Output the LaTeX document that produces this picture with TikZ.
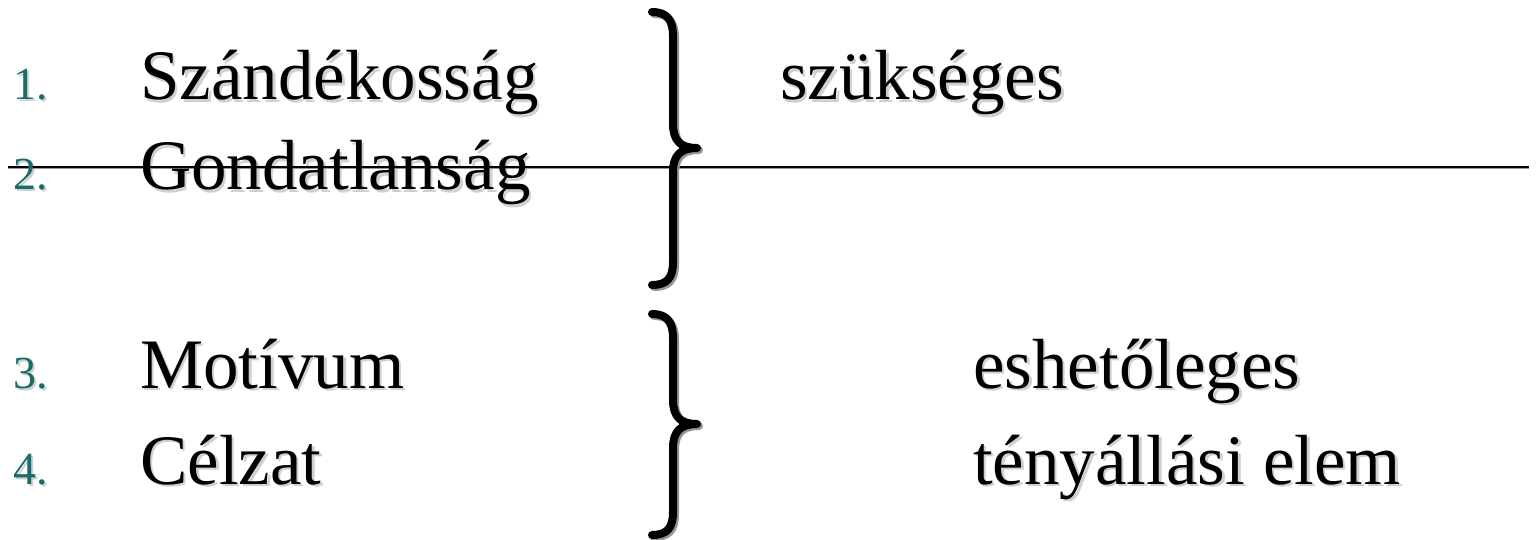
\documentclass[tikz,border=0pt]{standalone}
\usepackage{fontspec}
\setmainfont{Liberation Serif}
\definecolor{numteal}{RGB}{24,108,108}
\definecolor{shadowgray}{RGB}{150,150,150}
\tikzset{
  main/.style={anchor=base west, inner sep=0pt, font=\fontsize{71}{80}\selectfont},
  num/.style={anchor=base west, inner sep=0pt, text=numteal, font=\fontsize{46}{50}\selectfont},
  softshadow/.style={text=shadowgray, opacity=0.45},
  bracestroke/.style={line width=8pt, line cap=round, line join=round},
}
\begin{document}
\begin{tikzpicture}[x=1pt,y=-1pt]
\useasboundingbox (0,0) rectangle (1537,540);
% shadows
\foreach \n/\x/\y/\t in {s1/140/100/Szándékosság, s2/140/190/Gondatlanság, s3/140/388/Motívum, s4/140/484/Célzat, s5/780/100/szükséges, s6/973/388/eshetőleges, s7/973/484/tényállási elem}{
  \node[main, softshadow] (\n) at (\x+2.5,\y+2.5) {\t};
}
\foreach \n/\y/\t in {m1/100/1., m2/190/2., m3/388/3., m4/484/4.}{
  \node[num, softshadow] (\n) at (15,\y+2) {\t};
}
% horizontal rule
\coordinate (hl) at (8,167);
\coordinate (hr) at (1529,167);
\draw[shadowgray, line width=1.5pt] ([yshift=-1.5pt]hl) -- ([yshift=-1.5pt]hr);
\draw[line width=2pt] (hl) -- (hr);
% numbers
\node[num] (n1) at (13,100) {1.};
\node[num] (n2) at (13,190) {2.};
\node[num] (n3) at (13,388) {3.};
\node[num] (n4) at (13,484) {4.};
% main texts
\node[main] (t1) at (140,100) {Szándékosság};
\node[main] (t2) at (140,190) {Gondatlanság};
\node[main] (t3) at (140,388) {Motívum};
\node[main] (t4) at (140,484) {Célzat};
\node[main] (r1) at (780,100) {szükséges};
\node[main] (r2) at (973,388) {eshetőleges};
\node[main] (r3) at (973,484) {tényállási elem};
% braces
\foreach \dx/\col in {2/shadowgray, 0/black}{
\begin{scope}[xshift=\dx pt, yshift=-\dx pt]
\draw[bracestroke, draw=\col] (652,12) .. controls (667,12) and (673,20) .. (673,36) -- (673,124)
  .. controls (673,140) and (680,148) .. (697,148)
  .. controls (680,148) and (673,156) .. (673,172) -- (673,262)
  .. controls (673,278) and (667,285) .. (652,285);
\draw[bracestroke, draw=\col] (652,314) .. controls (667,314) and (673,322) .. (673,338) -- (673,400)
  .. controls (673,416) and (680,424) .. (697,424)
  .. controls (680,424) and (673,432) .. (673,448) -- (673,512)
  .. controls (673,528) and (667,535) .. (652,535);
\end{scope}
}
\end{tikzpicture}
\end{document}
